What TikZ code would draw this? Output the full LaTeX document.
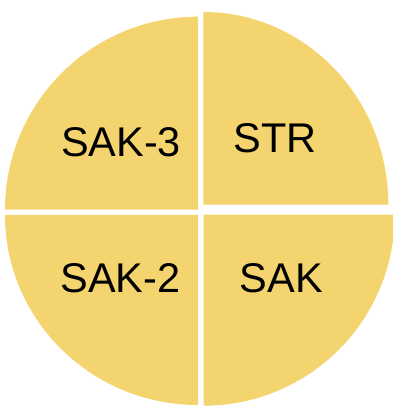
\documentclass[tikz,border=0pt]{standalone}
\usepackage{fontspec}
\setmainfont{Liberation Sans}
\definecolor{quad}{RGB}{243,212,110}
\begin{document}
\begin{tikzpicture}[x=1pt,y=1pt,
  lbl/.style={anchor=base,inner sep=0pt,font=\fontsize{41.5}{48}\selectfont,text=black},
  wedge/.style={fill=quad,draw=none}]
\useasboundingbox (0,0) rectangle (393,407);
% top-left
\fill[wedge] (198,197.3) -- ++(-193,0) arc[start angle=180,end angle=90,radius=193] -- cycle;
% top-right
\fill[wedge] (203.3,202.3) -- ++(0,192.7) arc[start angle=90,end angle=0,x radius=185,y radius=192.7] -- cycle;
% bottom-left
\fill[wedge] (198,192) -- ++(-193,0) arc[start angle=180,end angle=270,x radius=193,y radius=190] -- cycle;
% bottom-right
\fill[wedge] (203.7,192.3) -- ++(191,0) arc[start angle=0,end angle=-90,radius=191] -- cycle;
\node[lbl] (sak3) at (121,250.3) {SAK-3};
\node[lbl] (str) at (275,254.3) {STR};
\node[lbl] (sak2) at (120.3,114.3) {SAK-2};
\node[lbl] (sak) at (281.3,114.3) {SAK};
\end{tikzpicture}
\end{document}
